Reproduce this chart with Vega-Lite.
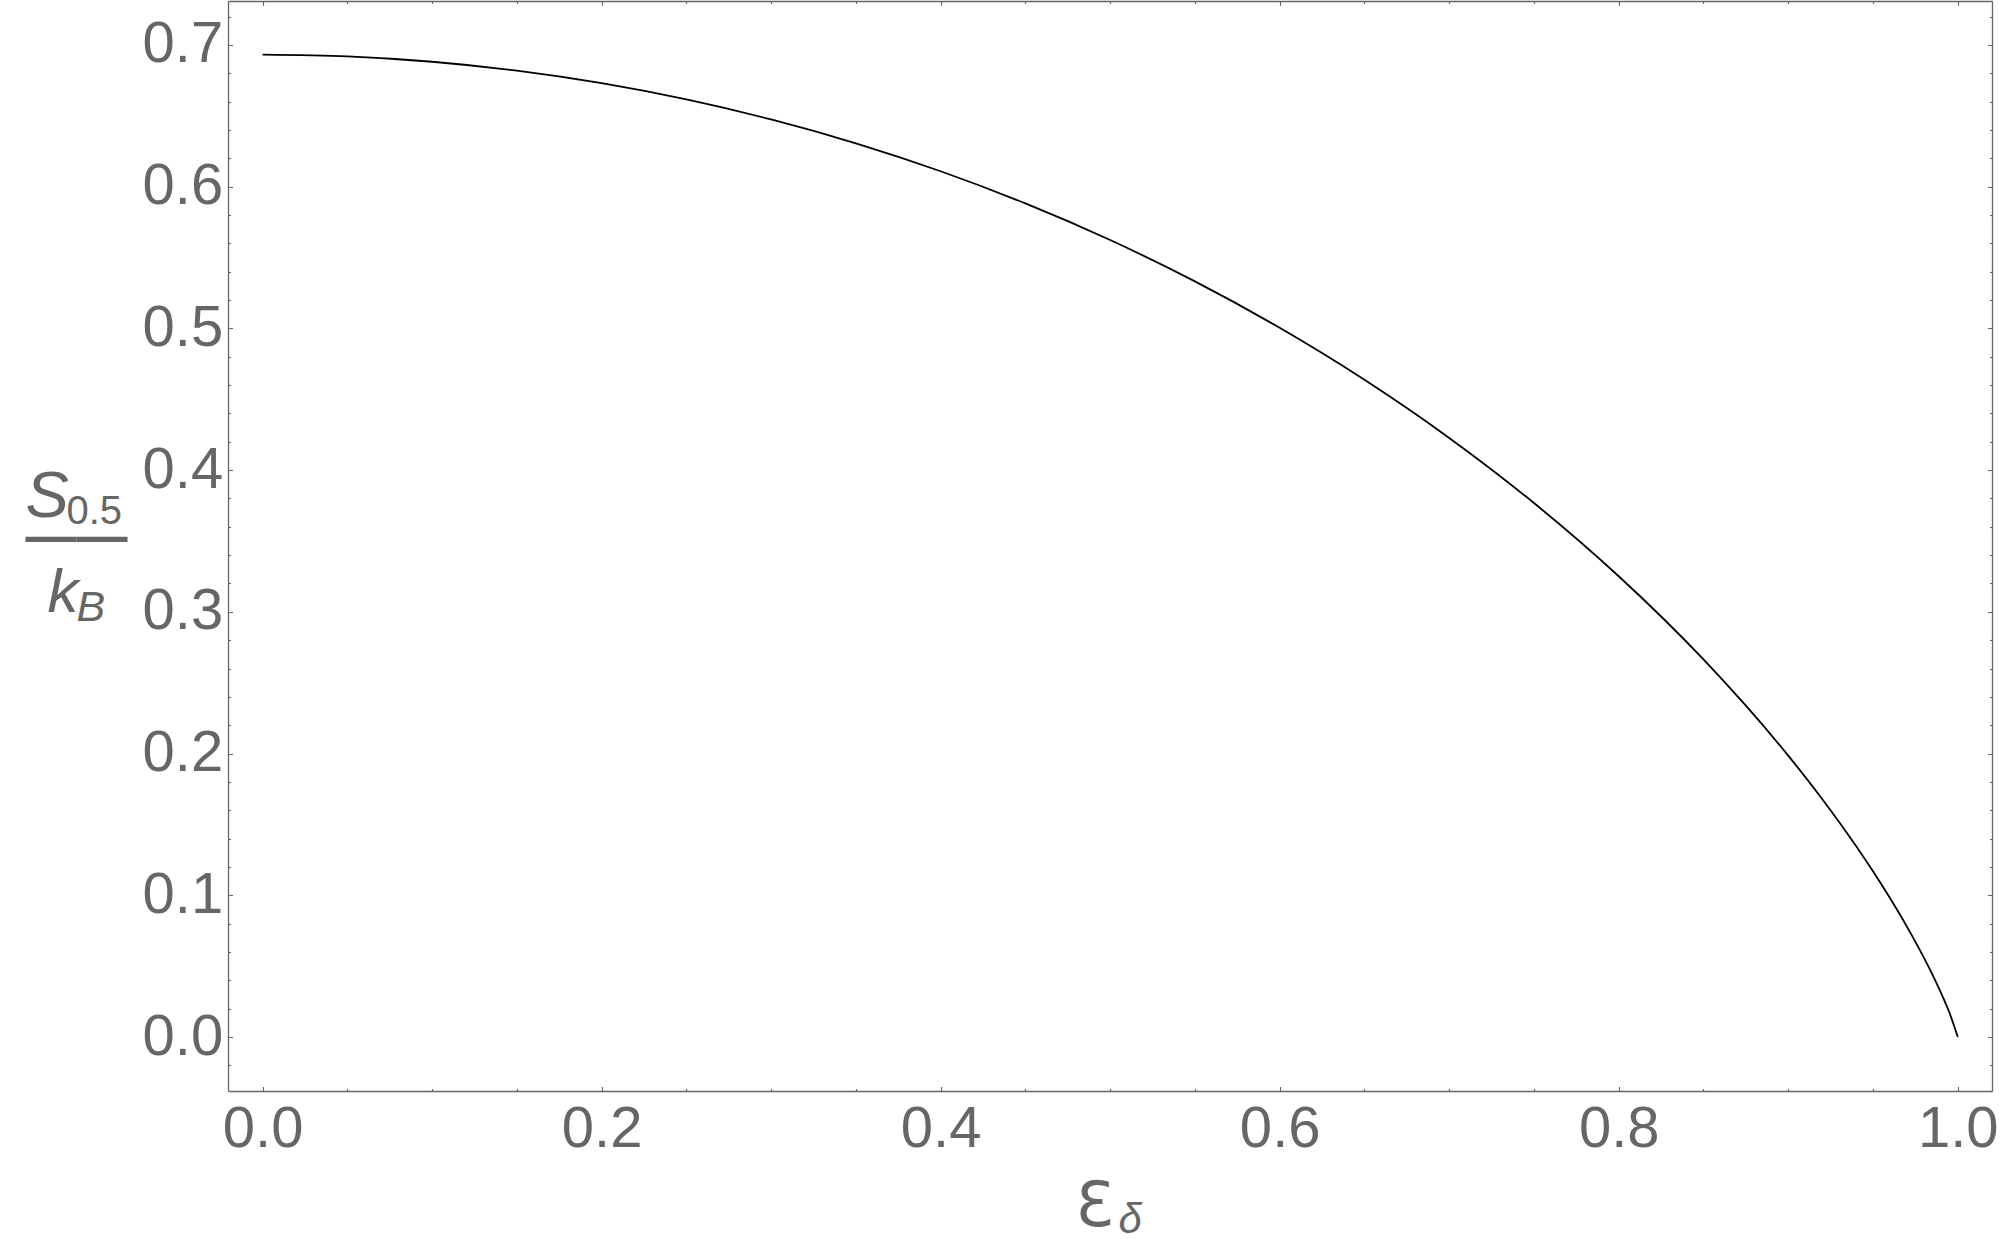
{
  "$schema": "https://vega.github.io/schema/vega-lite/v6.json",
  "width": 1764,
  "height": 1090,
  "autosize": {"type": "none"},
  "padding": {"left": 228, "top": 1, "right": 8, "bottom": 148},
  "background": "white",
  "config": {
    "view": {"stroke": null},
    "axis": {
      "grid": false,
      "domainColor": "#666666",
      "domainWidth": 1.3,
      "tickColor": "#666666",
      "tickWidth": 1.1,
      "labelColor": "#666666",
      "titleColor": "#666666",
      "labelFont": "Liberation Sans",
      "titleFont": "Liberation Sans",
      "labelFontSize": 58,
      "labelFontWeight": "normal",
      "titleFontWeight": "normal"
    }
  },
  "data": {
    "values": [
      {"e": 0, "s": 0.693147},
      {"e": 0.05, "s": 0.691897},
      {"e": 0.1, "s": 0.688139},
      {"e": 0.15, "s": 0.681855},
      {"e": 0.2, "s": 0.673012},
      {"e": 0.25, "s": 0.661563},
      {"e": 0.3, "s": 0.647446},
      {"e": 0.35, "s": 0.630581},
      {"e": 0.4, "s": 0.610864},
      {"e": 0.45, "s": 0.588168},
      {"e": 0.5, "s": 0.562335},
      {"e": 0.55, "s": 0.533164},
      {"e": 0.6, "s": 0.500402},
      {"e": 0.65, "s": 0.463727},
      {"e": 0.7, "s": 0.422709},
      {"e": 0.75, "s": 0.37677},
      {"e": 0.8, "s": 0.325083},
      {"e": 0.85, "s": 0.266384},
      {"e": 0.9, "s": 0.198515},
      {"e": 0.92, "s": 0.167944},
      {"e": 0.94, "s": 0.134742},
      {"e": 0.95, "s": 0.116907},
      {"e": 0.96, "s": 0.09804},
      {"e": 0.97, "s": 0.077882},
      {"e": 0.98, "s": 0.056001},
      {"e": 0.99, "s": 0.031478},
      {"e": 0.995, "s": 0.017476},
      {"e": 1, "s": 0}
    ]
  },
  "resolve": {"axis": {"x": "independent", "y": "independent"}},
  "layer": [
    {
      "mark": {"type": "line", "color": "black", "strokeWidth": 1.8, "interpolate": "monotone"},
      "encoding": {
        "x": {"field": "e", "type": "quantitative", "scale": {"domain": [-0.0204, 1.0202], "nice": false, "zero": false},
          "axis": {"orient": "bottom", "values": [0, 0.2, 0.4, 0.6, 0.8, 1], "format": ".1f", "tickSize": -4.5, "labelPadding": 14.2, "labelFlush": false, "labelOverlap": false,
            "title": "Ɛ", "titleX": 847, "titleY": 134, "titleAlign": "left", "titleBaseline": "alphabetic", "titleAngle": 0, "titleFontSize": 62, "titleFont": "DejaVu Sans", "titleFontStyle": "normal"}},
        "y": {"field": "s", "type": "quantitative", "scale": {"domain": [-0.0381, 0.731], "nice": false, "zero": false},
          "axis": {"orient": "left", "values": [0, 0.1, 0.2, 0.3, 0.4, 0.5, 0.6, 0.7], "format": ".1f", "tickSize": -4.5, "labelPadding": 9.8, "labelFlush": false, "labelOverlap": false,
            "title": "S", "titleX": -203, "titleY": 515, "titleAlign": "left", "titleBaseline": "alphabetic", "titleAngle": 0, "titleFontSize": 65, "titleFontStyle": "italic"}}
      }
    },
    {
      "mark": {"type": "line", "strokeOpacity": 0},
      "encoding": {
        "x": {"field": "e", "type": "quantitative", "scale": {"domain": [-0.0204, 1.0202], "nice": false, "zero": false},
          "axis": {"orient": "bottom", "values": [0.05, 0.1, 0.15, 0.25, 0.3, 0.35, 0.45, 0.5, 0.55, 0.65, 0.7, 0.75, 0.85, 0.9, 0.95], "tickSize": -2.5, "labels": false, "domain": false, "title": null}},
        "y": {"field": "s", "type": "quantitative", "scale": {"domain": [-0.0381, 0.731], "nice": false, "zero": false},
          "axis": {"orient": "left", "values": [-0.02, 0.02, 0.04, 0.06, 0.08, 0.12, 0.14, 0.16, 0.18, 0.22, 0.24, 0.26, 0.28, 0.32, 0.34, 0.36, 0.38, 0.42, 0.44, 0.46, 0.48, 0.52, 0.54, 0.56, 0.58, 0.62, 0.64, 0.66, 0.68, 0.72], "tickSize": -2.5, "labels": false, "domain": false, "title": null}}
      }
    },
    {
      "mark": {"type": "line", "strokeOpacity": 0},
      "encoding": {
        "x": {"field": "e", "type": "quantitative", "scale": {"domain": [-0.0204, 1.0202], "nice": false, "zero": false},
          "axis": {"orient": "top", "values": [0, 0.2, 0.4, 0.6, 0.8, 1], "tickSize": -4.5, "labels": false, "title": null}},
        "y": {"field": "s", "type": "quantitative", "scale": {"domain": [-0.0381, 0.731], "nice": false, "zero": false},
          "axis": {"orient": "right", "values": [0, 0.1, 0.2, 0.3, 0.4, 0.5, 0.6, 0.7], "tickSize": -4.5, "labels": false, "title": null}}
      }
    },
    {
      "mark": {"type": "line", "strokeOpacity": 0},
      "encoding": {
        "x": {"field": "e", "type": "quantitative", "scale": {"domain": [-0.0204, 1.0202], "nice": false, "zero": false},
          "axis": {"orient": "top", "values": [0.05, 0.1, 0.15, 0.25, 0.3, 0.35, 0.45, 0.5, 0.55, 0.65, 0.7, 0.75, 0.85, 0.9, 0.95], "tickSize": -2.5, "labels": false, "domain": false, "title": null}},
        "y": {"field": "s", "type": "quantitative", "scale": {"domain": [-0.0381, 0.731], "nice": false, "zero": false},
          "axis": {"orient": "right", "values": [-0.02, 0.02, 0.04, 0.06, 0.08, 0.12, 0.14, 0.16, 0.18, 0.22, 0.24, 0.26, 0.28, 0.32, 0.34, 0.36, 0.38, 0.42, 0.44, 0.46, 0.48, 0.52, 0.54, 0.56, 0.58, 0.62, 0.64, 0.66, 0.68, 0.72], "tickSize": -2.5, "labels": false, "domain": false, "title": null}}
      }
    },
    {
      "mark": {"type": "line", "strokeOpacity": 0},
      "encoding": {
        "x": {"field": "e", "type": "quantitative", "scale": {"domain": [-0.0204, 1.0202], "nice": false, "zero": false},
          "axis": {"orient": "bottom", "domain": false, "ticks": false, "labels": false,
            "title": "δ", "titleX": 890, "titleY": 141, "titleAlign": "left", "titleBaseline": "alphabetic", "titleAngle": 0, "titleFontSize": 42, "titleFontStyle": "italic"}},
        "y": {"field": "s", "type": "quantitative", "scale": {"domain": [-0.0381, 0.731], "nice": false, "zero": false},
          "axis": {"orient": "left", "domain": false, "ticks": false, "labels": false,
            "title": "0.5", "titleX": -162, "titleY": 522, "titleAlign": "left", "titleBaseline": "alphabetic", "titleAngle": 0, "titleFontSize": 40, "titleFontStyle": "normal"}}
      }
    },
    {
      "mark": {"type": "line", "strokeOpacity": 0},
      "encoding": {
        "x": {"field": "e", "type": "quantitative", "scale": {"domain": [-0.0204, 1.0202], "nice": false, "zero": false}, "axis": null},
        "y": {"field": "s", "type": "quantitative", "scale": {"domain": [-0.0381, 0.731], "nice": false, "zero": false},
          "axis": {"orient": "left", "domain": false, "ticks": false, "labels": false,
            "title": "k", "titleX": -181, "titleY": 610, "titleAlign": "left", "titleBaseline": "alphabetic", "titleAngle": 0, "titleFontSize": 62, "titleFontStyle": "italic"}}
      }
    },
    {
      "mark": {"type": "line", "strokeOpacity": 0},
      "encoding": {
        "x": {"field": "e", "type": "quantitative", "scale": {"domain": [-0.0204, 1.0202], "nice": false, "zero": false}, "axis": null},
        "y": {"field": "s", "type": "quantitative", "scale": {"domain": [-0.0381, 0.731], "nice": false, "zero": false},
          "axis": {"orient": "left", "domain": false, "ticks": false, "labels": false,
            "title": "B", "titleX": -152, "titleY": 619, "titleAlign": "left", "titleBaseline": "alphabetic", "titleAngle": 0, "titleFontSize": 43, "titleFontStyle": "italic"}}
      }
    },
    {
      "mark": {"type": "line", "strokeOpacity": 0},
      "encoding": {
        "x": {"field": "e", "type": "quantitative", "scale": {"domain": [-0.0204, 1.0202], "nice": false, "zero": false}, "axis": null},
        "y": {"field": "s", "type": "quantitative", "scale": {"domain": [-0.0381, 0.731], "nice": false, "zero": false},
          "axis": {"orient": "left", "domain": false, "ticks": false, "labels": false,
            "title": "——", "titleX": -203, "titleY": 551.5, "titleAlign": "left", "titleBaseline": "alphabetic", "titleAngle": 0, "titleFontSize": 51, "titleFontWeight": "bold", "titleFontStyle": "normal"}}
      }
    }
  ]
}
